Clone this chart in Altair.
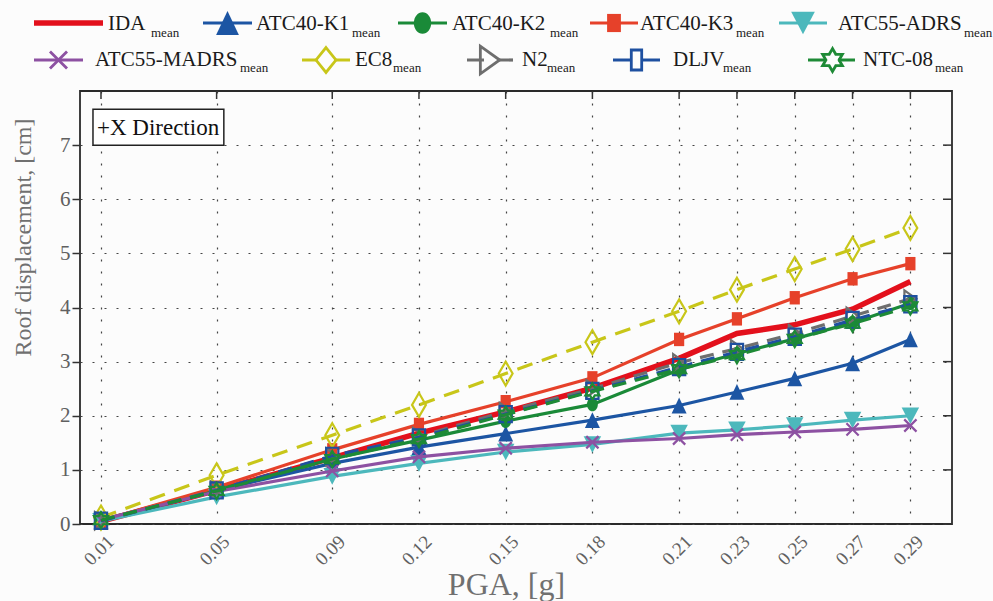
import math
import altair as alt
import pandas as pd

# ---------------- data ----------------
PGA = [0.01, 0.05, 0.09, 0.12, 0.15, 0.18, 0.21, 0.23, 0.25, 0.27, 0.29]

IDA = [0.05, 0.62, 1.22, 1.68, 2.07, 2.51, 3.06, 3.52, 3.68, 3.97, 4.48]
ATC40_K1 = [0.05, 0.62, 1.12, 1.42, 1.67, 1.92, 2.19, 2.44, 2.69, 2.97, 3.41]
ATC40_K2 = [0.07, 0.63, 1.20, 1.55, 1.90, 2.21, 2.85, 3.15, 3.42, 3.72, 4.08]
ATC40_K3 = [0.06, 0.68, 1.37, 1.84, 2.26, 2.70, 3.41, 3.79, 4.18, 4.53, 4.81]
ATC55_ADRS = [0.05, 0.50, 0.88, 1.12, 1.33, 1.47, 1.68, 1.74, 1.82, 1.92, 2.00]
ATC55_MADRS = [0.08, 0.60, 0.98, 1.24, 1.40, 1.51, 1.58, 1.65, 1.70, 1.75, 1.82]
EC8 = [0.12, 0.90, 1.64, 2.20, 2.78, 3.36, 3.93, 4.33, 4.71, 5.08, 5.47]
N2 = [0.06, 0.63, 1.24, 1.62, 2.08, 2.50, 2.98, 3.24, 3.52, 3.84, 4.16]
DLJV = [0.06, 0.62, 1.26, 1.60, 2.03, 2.46, 2.90, 3.18, 3.46, 3.77, 4.06]
NTC_08 = [0.07, 0.61, 1.20, 1.57, 2.02, 2.45, 2.86, 3.12, 3.42, 3.70, 4.02]

SERIES_NAMES = ["IDA", "ATC40-K1", "ATC40-K2", "ATC40-K3", "ATC55-ADRS",
                "ATC55-MADRS", "EC8", "N2", "DLJV", "NTC-08"]
SERIES_VALUES = [IDA, ATC40_K1, ATC40_K2, ATC40_K3, ATC55_ADRS,
                 ATC55_MADRS, EC8, N2, DLJV, NTC_08]
SUBSCRIPT = "mean"

Y_TICKS = [0, 1, 2, 3, 4, 5, 6, 7]
X_TITLE = "PGA, [g]"
Y_TITLE = "Roof displacement, [cm]"
ANNOTATION = "+X Direction"

# ---------------- styles ----------------
FONT = "Liberation Serif"
X_PATH = "M-1,-1L1,1M-1,1L1,-1"
DIAMOND = "M0,-1L0.58,0L0,1L-0.58,0Z"
DIAMOND_L = "M0,-1L0.8,0L0,1L-0.8,0Z"
TRI_UP = "M0,-0.9L0.85,0.9L-0.85,0.9Z"
TRI_DOWN = "M0,0.9L0.95,-0.9L-0.95,-0.9Z"
TRI_RIGHT = "M0.7,0L-0.7,-1L-0.7,1Z"
ELLIPSE = "M0,-1A0.8,1,0,1,1,0,1A0.8,1,0,1,1,0,-1Z"
RECT = "M-0.76,-1L0.76,-1L0.76,1L-0.76,1Z"
RECT_L = "M-0.52,-1L0.52,-1L0.52,1L-0.52,1Z"
_pts = []
for k in range(12):
    a = math.radians(90 + 30 * k)
    r = 1.0 if k % 2 == 0 else 0.577
    _pts.append(f"{r * math.cos(a):.3f},{-r * math.sin(a):.3f}")
HEXAGRAM = "M" + "L".join(_pts) + "Z"

STYLE = {
    "IDA":         dict(color="#e3101c", shape=None, lshape=None, filled=True, size=0, lsize=0, dash=None, width=5.5),
    "ATC40-K1":    dict(color="#1c55a3", shape=TRI_UP, lshape=TRI_UP, filled=True, size=310, lsize=720, dash=None, width=3.2),
    "ATC40-K2":    dict(color="#1a8a38", shape=ELLIPSE, lshape=ELLIPSE, filled=True, size=185, lsize=470, dash=None, width=3.2),
    "ATC40-K3":    dict(color="#e6412a", shape=RECT, lshape=RECT, filled=True, size=180, lsize=330, dash=None, width=3.2),
    "ATC55-ADRS":  dict(color="#4cb8bc", shape=TRI_DOWN, lshape=TRI_DOWN, filled=True, size=340, lsize=620, dash=None, width=3.2),
    "ATC55-MADRS": dict(color="#8d51a2", shape=X_PATH, lshape=X_PATH, filled=False, size=150, lsize=290, dash=None, width=3.2),
    "EC8":         dict(color="#c8c619", shape=DIAMOND, lshape=DIAMOND_L, filled=False, size=570, lsize=620, dash=[16, 10], width=3.2),
    "N2":          dict(color="#6e6e6e", shape=TRI_RIGHT, lshape=TRI_RIGHT, filled=False, size=290, lsize=760, dash=[14, 9], width=3.2),
    "DLJV":        dict(color="#1e50a0", shape=RECT, lshape=RECT_L, filled=False, size=260, lsize=400, dash=[14, 9], width=3.2),
    "NTC-08":      dict(color="#1e8a36", shape=HEXAGRAM, lshape=HEXAGRAM, filled=False, size=260, lsize=520, dash=[14, 9], width=3.2),
}

# legend layout (page pixels)
LEG_ROW = [0, 0, 0, 0, 0, 1, 1, 1, 1, 1]
LEG_LINE_X0 = [34, 203, 398, 590, 779, 34, 302, 467, 613, 808]
LEG_LINE_X1 = [103, 252, 447, 638, 827, 83, 350, 513, 660, 857]
LEG_TEXT_X = [108, 256, 452, 640, 838, 95, 355, 522, 673, 863]
LEG_SUB_X = [151, 352, 550, 736, 964, 240, 393, 547, 723, 935]
ROW_SYMBOL_Y = [23, 60]
ROW_TEXT_Y = [30, 66]
ROW_SUB_Y = [37, 72]

PLOT_W, PLOT_H = 872, 433
PAD = {"left": 80, "top": 91, "right": 41, "bottom": 77}

x_scale = alt.Scale(domain=[0.00274, 0.3044], nice=False, zero=False)
y_scale = alt.Scale(domain=[0, 8], nice=False)

X_ENC = alt.X("pga:Q", scale=x_scale, axis=alt.Axis(
    values=PGA, format=".2f", labelAngle=315, labelFont=FONT, labelFontSize=19,
    labelColor="#606060", labelPadding=8, labelOffset=3, ticks=False, domain=False,
    grid=True, gridDash=[2, 10], gridColor="#444", gridWidth=1.2,
    title=X_TITLE, titleFont=FONT, titleFontSize=32, titleFontWeight="normal",
    titleColor="#707070", titleX=426, titleY=70, titleBaseline="alphabetic",
    titleAlign="center", labelFlush=False, labelOverlap=False))
Y_ENC = alt.Y("value:Q", scale=y_scale, axis=alt.Axis(
    values=Y_TICKS, labelFont=FONT, labelFontSize=21, labelColor="#606060",
    labelPadding=2, ticks=True, tickSize=8, tickColor="#333", tickWidth=1.5,
    domain=False, grid=True, gridDash=[2, 10], gridColor="#444", gridWidth=1.2,
    title=Y_TITLE, titleFont=FONT, titleFontSize=24, titleFontWeight="normal",
    titleColor="#707070", titleAngle=270, titleX=-50, titleY=146,
    titleBaseline="alphabetic", titleAlign="center"))

# ---------------- main plot layers ----------------
main_layers = []

# annotation box
box_df = pd.DataFrame({"pga": [0.00723], "pga2": [0.0525], "value": [7.665], "value2": [7.0]})
main_layers.append(alt.Chart(box_df).mark_rect(fill="#ffffff", stroke="#222", strokeWidth=1.5).encode(
    x=X_ENC, x2="pga2:Q", y=Y_ENC, y2="value2:Q"))
txt_df = pd.DataFrame({"pga": [0.0086], "value": [7.19], "label": [ANNOTATION]})
main_layers.append(alt.Chart(txt_df).mark_text(align="left", baseline="alphabetic", font=FONT,
                                               fontSize=23, color="#111").encode(
    x=X_ENC, y=Y_ENC, text="label:N"))

for name, vals in zip(SERIES_NAMES, SERIES_VALUES):
    st = STYLE[name]
    df = pd.DataFrame({"pga": PGA, "value": vals})
    line_kw = dict(color=st["color"], strokeWidth=st["width"], clip=False)
    if st["dash"]:
        line_kw["strokeDash"] = st["dash"]
    main_layers.append(alt.Chart(df).mark_line(**line_kw).encode(x=X_ENC, y=Y_ENC))
    if st["shape"]:
        if st["filled"]:
            pt = alt.Chart(df).mark_point(shape=st["shape"], filled=True, color=st["color"],
                                          size=st["size"], opacity=1, strokeWidth=0)
        else:
            pt = alt.Chart(df).mark_point(shape=st["shape"], filled=False, color=st["color"],
                                          size=st["size"], opacity=1, strokeWidth=2.2)
        main_layers.append(pt.encode(x=X_ENC, y=Y_ENC))

# inward ticks on right and top frame
rt_df = pd.DataFrame({"value": Y_TICKS})
main_layers.append(alt.Chart(rt_df).mark_rule(color="#333", strokeWidth=1.5).encode(
    y=Y_ENC, x=alt.value(PLOT_W - 9), x2=alt.value(PLOT_W)))
tp_df = pd.DataFrame({"pga": PGA})
main_layers.append(alt.Chart(tp_df).mark_rule(color="#333", strokeWidth=1.5).encode(
    x=X_ENC, y=alt.value(0), y2=alt.value(8)))

main = alt.layer(*main_layers)

# ---------------- legend layers ----------------
LX = alt.Scale(domain=[0, 993], range=[-PAD["left"], 993 - PAD["left"]], nice=False, zero=False)
LY = alt.Scale(domain=[0, 601], range=[-PAD["top"], 601 - PAD["top"]], nice=False, zero=False)

leg_layers = []
for i, name in enumerate(SERIES_NAMES):
    st = STYLE[name]
    r = LEG_ROW[i]
    x0, x1 = LEG_LINE_X0[i], LEG_LINE_X1[i]
    d = pd.DataFrame({"lx": [x0], "lx2": [x1], "cx": [(x0 + x1) / 2], "ly": [ROW_SYMBOL_Y[r]]})
    rk = dict(color=st["color"], strokeWidth=st["width"])
    if st["dash"]:
        rk["strokeDash"] = [16, 16] if name == "EC8" else [17, 13]
    leg_layers.append(alt.Chart(d).mark_rule(**rk).encode(
        x=alt.X("lx:Q", scale=LX, axis=None), x2="lx2:Q",
        y=alt.Y("ly:Q", scale=LY, axis=None)))
    if st["lshape"]:
        if st["filled"]:
            pm = alt.Chart(d).mark_point(shape=st["lshape"], filled=True, color=st["color"],
                                         size=st["lsize"], opacity=1, strokeWidth=0)
        else:
            pm = alt.Chart(d).mark_point(shape=st["lshape"], filled=False, color=st["color"],
                                         size=st["lsize"], opacity=1, strokeWidth=2.8)
        leg_layers.append(pm.encode(x=alt.X("cx:Q", scale=LX, axis=None),
                                    y=alt.Y("ly:Q", scale=LY, axis=None)))

lt_df = pd.DataFrame({
    "lx": LEG_TEXT_X,
    "ly": [ROW_TEXT_Y[r] for r in LEG_ROW],
    "label": SERIES_NAMES,
})
leg_layers.append(alt.Chart(lt_df).mark_text(align="left", baseline="alphabetic", font=FONT,
                                             fontSize=21, color="#1a1a1a").encode(
    x=alt.X("lx:Q", scale=LX, axis=None), y=alt.Y("ly:Q", scale=LY, axis=None), text="label:N"))
ls_df = pd.DataFrame({
    "lx": LEG_SUB_X,
    "ly": [ROW_SUB_Y[r] for r in LEG_ROW],
    "label": [SUBSCRIPT] * len(SERIES_NAMES),
})
leg_layers.append(alt.Chart(ls_df).mark_text(align="left", baseline="alphabetic", font=FONT,
                                             fontSize=13, color="#1a1a1a").encode(
    x=alt.X("lx:Q", scale=LX, axis=None), y=alt.Y("ly:Q", scale=LY, axis=None), text="label:N"))

legend = alt.layer(*leg_layers)

chart = alt.layer(main, legend).resolve_scale(x="independent", y="independent").properties(
    width=PLOT_W, height=PLOT_H,
    autosize=alt.AutoSizeParams(type="none"),
    padding=PAD,
    background="#fcfcfc",
).configure_view(stroke="#2a2a2a", strokeWidth=1.8)

chart.save("out.html", embed_options={"renderer": "svg", "actions": False})
